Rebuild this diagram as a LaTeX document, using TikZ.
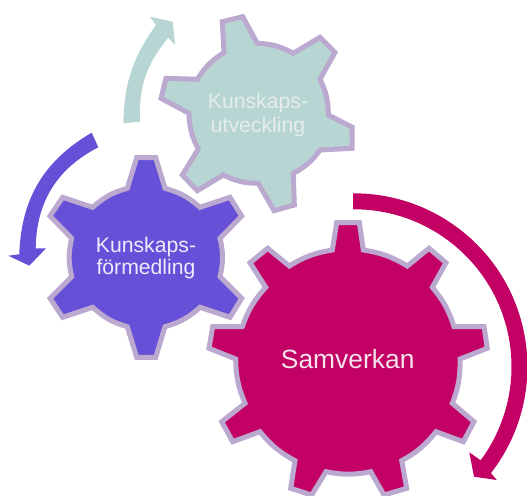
\documentclass[tikz,border=0pt]{standalone}
\usepackage{fontspec}
\setmainfont{Liberation Sans}
\definecolor{tealc}{HTML}{B7D6D3}
\definecolor{purpc}{HTML}{6650D8}
\definecolor{magc}{HTML}{C30063}
\definecolor{edgec}{HTML}{BBA9CF}
\definecolor{tealtxt}{HTML}{E6ECEB}
\definecolor{purptxt}{HTML}{EDEAFA}
\definecolor{magtxt}{HTML}{F6E3EE}
\tikzset{
  gear/.style={draw=edgec,line width=3.75pt,line join=miter,miter limit=3},
  small/.style={align=center,inner sep=0pt,font=\fontsize{15.9}{16}\selectfont},
  aa/.style={bend left=13},
  ab/.style={bend left=11}
}
\begin{document}
\begin{tikzpicture}[x=0.75pt,y=-0.75pt]
\clip (0,0) rectangle (527,495);
% teal arrow
\fill[tealc] (123.3,123.3) to[bend left=17] (156,25) -- (150,16.7) -- (172.7,21.7) -- (175,45) -- (168.3,37.7) to[bend right=21] (140,121.7) -- cycle;
% purple arrow
\fill[purpc] (91.7,132.7) to[bend right=29] (19.3,254.3) -- (8.3,255.7) -- (29.3,265.7) -- (46,248.3) -- (35.7,248.3) to[bend left=31] (98.3,147.3) -- cycle;
% magenta arrow
\fill[magc] (353,209.3) arc[start angle=-90.4,end angle=36.5,radius=157.4] -- (469.3,452.3) -- (474,476.7) -- (496.7,480) -- (491,473) arc[start angle=37.8,end angle=-90.3,radius=173.4] -- cycle;
% teal gear
\draw[gear,fill=tealc] (222.3,21.7) -- (242.7,16.7) -- (257.3,43.3) to[aa] (293.3,53.3) -- (320,37.3) -- (335,52.3) -- (320,79.3) to[aa] (328.3,115) -- (352,127) -- (352,148.3) -- (320,150) to[aa] (293.3,173.3) -- (294.3,205) -- (274,210.7) -- (258.3,183.3) to[aa] (223.3,175) -- (197.3,190.7) -- (182.3,175) -- (198.3,149) to[aa] (189,113.3) -- (161,98.3) -- (166,78.3) -- (197.3,79.3) to[aa] (224,52.7) -- cycle;
% purple gear
\draw[gear,fill=purpc] (127.3,188.3) -- (136.7,157.7) -- (155.7,157.7) -- (165,188.3) to[aa] (200,207.3) -- (230,197.3) -- (241.7,216) -- (220,238.3) to[aa] (220,276.7) -- (241.7,298.3) -- (230,317.3) -- (200,307.3) to[aa] (165,326.7) -- (155.7,357.3) -- (136.7,357.3) -- (127.3,326.7) to[aa] (92.7,307.3) -- (62.7,317.3) -- (50,298.3) -- (71.7,276.7) to[aa] (71.7,238.3) -- (50,216) -- (62.7,197.3) -- (92.7,207.3) to[aa] (127.3,188.3) -- cycle;
% magenta gear
\draw[gear,fill=magc] (332.3,250) -- (336.7,222.7) -- (359.3,222.7) -- (363.3,250) to[ab] (407.3,266) -- (429,248.3) -- (446,262.7) -- (432.3,287.3) to[ab] (454,326.7) -- (484,326.7) -- (487.3,348.3) -- (460,359) to[ab] (452.3,403.3) -- (474,421.7) -- (463.3,441.7) -- (436,431.7) to[ab] (401.7,460.7) -- (406.7,488.3) -- (384,495) -- (370.7,471.7) to[ab] (326,471.7) -- (311.7,495) -- (290.7,488.3) -- (295,460.7) to[ab] (260,431.7) -- (232.7,441.7) -- (221.7,421.7) -- (245,403.3) to[ab] (235.7,359) -- (209,348.3) -- (212.7,326.7) -- (242.3,326.7) to[ab] (265.7,287.3) -- (250,262.7) -- (267.7,248.3) -- (289.3,266) to[ab] (332.3,250) -- cycle;
\node[small,text=tealtxt] (teal) at (258,115) {Kunskaps-\\[1.5pt]utveckling};
\node[small,text=purptxt] (purp) at (146,258) {Kunskaps-\\förmedling};
\node[inner sep=0pt,font=\fontsize{19.8}{20}\selectfont,text=magtxt] (mag) at (347.7,359) {Samverkan};
\end{tikzpicture}
\end{document}
